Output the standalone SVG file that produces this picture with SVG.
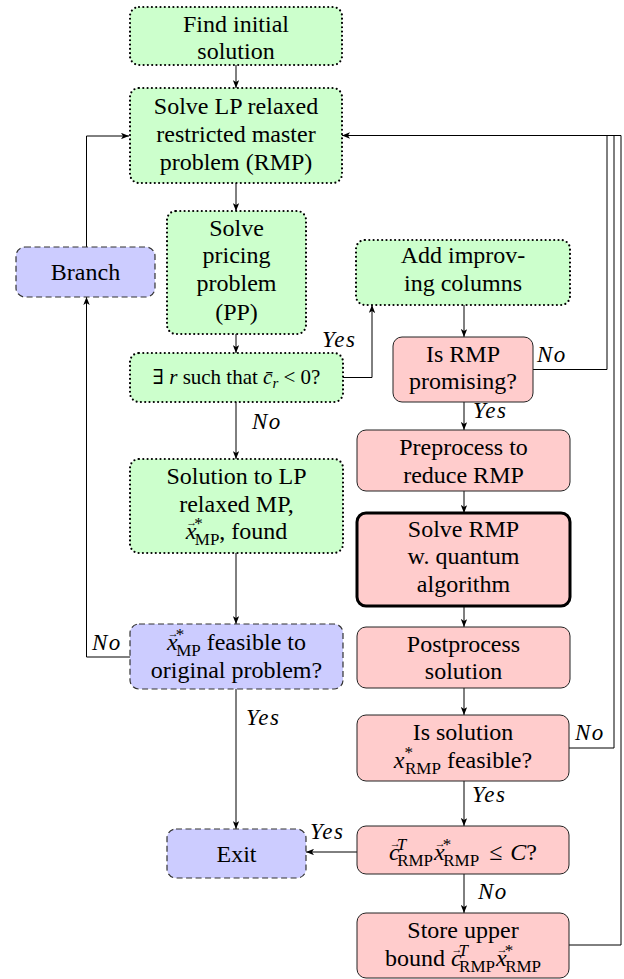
<svg xmlns="http://www.w3.org/2000/svg" width="624" height="979" viewBox="0 0 624 979">
<defs>
<marker id="arr" viewBox="0 0 10 8" refX="10" refY="4" markerWidth="8" markerHeight="6.4" markerUnits="userSpaceOnUse" orient="auto">
<path d="M0,0 L10,4 L0,8 L2.5,4 Z" fill="#000"/>
</marker>
</defs>
<style>
text{font-family:'Liberation Serif','DejaVu Serif',serif}
.t{font-size:24px;text-anchor:middle;fill:#000}
.i{font-style:italic}
.s{font-size:17px}
.ar{font-size:11px;font-style:normal}
.green{fill:#ccffcc;stroke:#000;stroke-width:2.2;stroke-dasharray:0 4.3;stroke-linecap:round}
.blue{fill:#ccccff;stroke:#333;stroke-width:1.2;stroke-dasharray:6 3.5}
.red{fill:#ffcccc;stroke:#222;stroke-width:1}
.thick{stroke:#000;stroke-width:3}
.lbl{font-style:italic;font-size:23px;letter-spacing:1.5px;fill:#000}
.c{fill:none;stroke:#000;stroke-width:1}
</style>

<g id="connectors">
<path class="c" d="M236,65 V88" marker-end="url(#arr)"/>
<path class="c" d="M236,183 V211" marker-end="url(#arr)"/>
<path class="c" d="M236,334 V353" marker-end="url(#arr)"/>
<path class="c" d="M236,402 V459" marker-end="url(#arr)"/>
<path class="c" d="M236,553 V624" marker-end="url(#arr)"/>
<path class="c" d="M236,689 V829" marker-end="url(#arr)"/>
<path class="c" d="M343,377.5 H372 V305" marker-end="url(#arr)"/>
<path class="c" d="M464,305 V337" marker-end="url(#arr)"/>
<path class="c" d="M464,402 V430" marker-end="url(#arr)"/>
<path class="c" d="M464,491 V513" marker-end="url(#arr)"/>
<path class="c" d="M464,606 V627" marker-end="url(#arr)"/>
<path class="c" d="M464,688 V715" marker-end="url(#arr)"/>
<path class="c" d="M464,781 V826" marker-end="url(#arr)"/>
<path class="c" d="M464,874 V913" marker-end="url(#arr)"/>
<path class="c" d="M357,852 H306" marker-end="url(#arr)"/>
<path class="c" d="M130,657 H86.5 V297" marker-end="url(#arr)"/>
<path class="c" d="M86.5,247 V136 H129" marker-end="url(#arr)"/>
<path class="c" d="M533,369.5 H607 V135.5"/>
<path class="c" d="M569,748 H614 V135.5"/>
<path class="c" d="M569,945 H621 V135.5"/>
<path class="c" d="M621,135.5 H342" marker-end="url(#arr)"/>
<text class="lbl" x="322" y="347">Yes</text>
<text class="lbl" x="252" y="429">No</text>
<text class="lbl" x="92" y="650">No</text>
<text class="lbl" x="246" y="725">Yes</text>
<text class="lbl" x="473" y="418">Yes</text>
<text class="lbl" x="537" y="362">No</text>
<text class="lbl" x="575" y="740">No</text>
<text class="lbl" x="472" y="802">Yes</text>
<text class="lbl" x="310" y="839">Yes</text>
<text class="lbl" x="478" y="899">No</text>
</g>

<g id="find-initial">
<rect class="green" x="130" y="7" width="212" height="58" rx="9"/>
<text class="t" x="236" y="32">Find initial</text>
<text class="t" x="236" y="59">solution</text>
</g>

<g id="solve-lp">
<rect class="green" x="130" y="88" width="212" height="95" rx="9"/>
<text class="t" x="236" y="114">Solve LP relaxed</text>
<text class="t" x="236" y="142">restricted master</text>
<text class="t" x="236" y="170">problem (RMP)</text>
</g>

<g id="branch">
<rect class="blue" x="16" y="247" width="139" height="50" rx="9"/>
<text class="t" x="85.5" y="280">Branch</text>
</g>

<g id="solve-pricing">
<rect class="green" x="167" y="211" width="139" height="123" rx="9"/>
<text class="t" x="236.5" y="236">Solve</text>
<text class="t" x="236.5" y="263">pricing</text>
<text class="t" x="236.5" y="291">problem</text>
<text class="t" x="236.5" y="320">(PP)</text>
</g>

<g id="exists-r">
<rect class="green" x="130" y="353" width="213" height="49" rx="9"/>
<text class="t" x="236.5" y="384" style="font-size:21px">∃ <tspan class="i">r</tspan> such that <tspan class="i">c̄</tspan><tspan class="i" style="font-size:15px" dy="4">r</tspan><tspan dy="-4"> &lt; 0?</tspan></text>
</g>

<g id="add-columns">
<rect class="green" x="356" y="240" width="214" height="65" rx="9"/>
<text class="t" x="463" y="263">Add improv-</text>
<text class="t" x="463" y="291">ing columns</text>
</g>

<g id="is-rmp-promising">
<rect class="red" x="393" y="337" width="140" height="65" rx="9"/>
<text class="t" x="463" y="362">Is RMP</text>
<text class="t" x="463" y="389">promising?</text>
</g>

<g id="preprocess">
<rect class="red" x="357" y="430" width="213" height="61" rx="9"/>
<text class="t" x="463.5" y="455">Preprocess to</text>
<text class="t" x="463.5" y="483">reduce RMP</text>
</g>

<g id="solve-quantum">
<rect class="red thick" x="357" y="513" width="213" height="93" rx="9"/>
<text class="t" x="463.5" y="537">Solve RMP</text>
<text class="t" x="463.5" y="564">w. quantum</text>
<text class="t" x="463.5" y="592">algorithm</text>
</g>

<g id="postprocess">
<rect class="red" x="357" y="627" width="213" height="61" rx="9"/>
<text class="t" x="463.5" y="652">Postprocess</text>
<text class="t" x="463.5" y="679">solution</text>
</g>

<g id="is-feasible">
<rect class="red" x="357" y="715" width="212" height="66" rx="9"/>
<text class="t" x="463" y="740">Is solution</text>
<text class="t" x="463" y="768"><tspan class="i">x</tspan><tspan class="s" dy="-10">*</tspan><tspan class="s" dx="-8" dy="16">RMP</tspan><tspan dy="-6"> feasible?</tspan></text>
</g>

<g id="bound-check">
<rect class="red" x="357" y="826" width="212" height="48" rx="9"/>
<text class="t" x="463" y="860"><tspan class="i">c</tspan><tspan class="ar" dx="-10" dy="-13">→</tspan><tspan class="s i" dx="-4" dy="3">T</tspan><tspan class="s" dx="-9" dy="16">RMP</tspan><tspan class="i" dx="1" dy="-6">x</tspan><tspan class="ar" dx="-10" dy="-13">→</tspan><tspan class="s" dx="-3" dy="3">*</tspan><tspan class="s" dx="-8" dy="16">RMP</tspan><tspan dx="4" dy="-6"> ≤ </tspan><tspan class="i" dx="2">C</tspan>?</text>
</g>

<g id="store-bound">
<rect class="red" x="357" y="913" width="212" height="65" rx="9"/>
<text class="t" x="463" y="938">Store upper</text>
<text class="t" x="463" y="966">bound <tspan class="i">c</tspan><tspan class="ar" dx="-10" dy="-13">→</tspan><tspan class="s i" dx="-4" dy="3">T</tspan><tspan class="s" dx="-9" dy="16">RMP</tspan><tspan class="i" dx="1" dy="-6">x</tspan><tspan class="ar" dx="-10" dy="-13">→</tspan><tspan class="s" dx="-3" dy="3">*</tspan><tspan class="s" dx="-8" dy="16">RMP</tspan></text>
</g>

<g id="solution-lp">
<rect class="green" x="130" y="459" width="213" height="94" rx="9"/>
<text class="t" x="236.5" y="484">Solution to LP</text>
<text class="t" x="236.5" y="512">relaxed MP,</text>
<text class="t" x="236.5" y="539"><tspan class="i">x</tspan><tspan class="ar" dx="-10" dy="-13">→</tspan><tspan class="s" dx="-3" dy="3">*</tspan><tspan class="s" dx="-8" dy="16">MP</tspan><tspan dy="-6">, found</tspan></text>
</g>

<g id="mp-feasible">
<rect class="blue" x="130" y="624" width="213" height="65" rx="9"/>
<text class="t" x="236.5" y="650"><tspan class="i">x</tspan><tspan class="ar" dx="-10" dy="-13">→</tspan><tspan class="s" dx="-3" dy="3">*</tspan><tspan class="s" dx="-8" dy="16">MP</tspan><tspan dy="-6"> feasible to</tspan></text>
<text class="t" x="236.5" y="678">original problem?</text>
</g>

<g id="exit">
<rect class="blue" x="167" y="829" width="139" height="49" rx="9"/>
<text class="t" x="236.5" y="862">Exit</text>
</g>
</svg>
